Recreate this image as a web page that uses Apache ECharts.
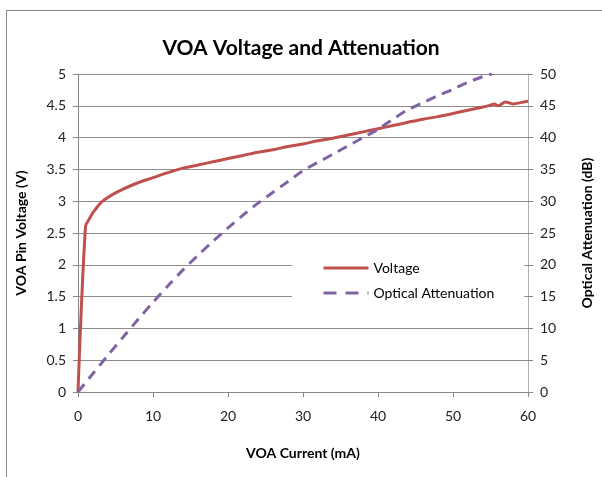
<!DOCTYPE html>
<html lang="en">
<head>
    <meta charset="UTF-8">
    <title>VOA Voltage and Attenuation</title>
    <script src="https://cdn.jsdelivr.net/npm/echarts@6/dist/echarts.min.js"></script>
    <style>
        html, body { margin: 0; padding: 0; background: #fff; }
        #wrap { position: relative; width: 602px; height: 477px; overflow: hidden; }
        #frame { position: absolute; left: 6px; top: 10px; width: 620px; height: 500px; border: 1px solid #8a8a8a; }
        #chart { position: absolute; left: 0; top: 0; width: 602px; height: 477px; }
    </style>
</head>
<body>
<div id="wrap">
    <div id="frame"></div>
    <div id="chart"></div>
</div>
<script>
    // VOA current (mA) and pin voltage (V)
    var voltCurrent = [0, 1, 1.5, 2, 3, 4, 5, 6, 8, 10, 12, 14, 16, 18, 20, 22, 24, 26, 28, 30,
        32, 34, 36, 38, 40, 42, 44, 46, 48, 50, 52, 54, 55, 55.5, 56, 57, 58, 59, 60];
    var voltage = [0, 2.6, 2.72, 2.82, 2.97, 3.06, 3.13, 3.19, 3.29, 3.37, 3.45, 3.52, 3.57, 3.62, 3.67, 3.72, 3.77, 3.81, 3.86, 3.9,
        3.95, 3.99, 4.04, 4.09, 4.14, 4.19, 4.24, 4.29, 4.33, 4.38, 4.43, 4.48, 4.51, 4.53, 4.5, 4.56, 4.53, 4.55, 4.57];

    // VOA current (mA) and optical attenuation (dB)
    var attCurrent = [0, 2, 4, 6, 8, 10, 12, 14, 16, 18, 20, 22, 24, 26, 28, 30, 32, 34, 36, 38,
        40, 42, 44, 46, 48, 50, 52, 54, 55.2];
    var attenuation = [0, 2.9, 5.8, 8.6, 11.4, 14.1, 16.7, 19.2, 21.5, 23.7, 25.8, 27.8, 29.7, 31.4, 33.1, 34.8, 36.1, 37.4, 38.7, 40,
        41.3, 42.9, 44.4, 45.5, 46.6, 47.6, 48.7, 49.6, 50];

    function pairs(xs, ys) {
        var out = [];
        for (var i = 0; i < xs.length; i++) out.push([xs[i], ys[i]]);
        return out;
    }

    var font = 'Lato, "Liberation Sans", sans-serif';
    var axisGray = '#868686';

    var myChart = echarts.init(document.getElementById('chart'));
    var option = {
        animation: false,
        textStyle: { fontFamily: font },
        title: {
            text: 'VOA Voltage and Attenuation',
            left: 296,
            textAlign: 'center',
            top: 33,
            textStyle: { fontSize: 21, fontWeight: 'bold', color: '#000', fontFamily: font }
        },
        legend: {
            orient: 'vertical',
            left: 292,
            top: 253,
            padding: [8, 30, 8, 30],
            backgroundColor: '#fff',
            itemWidth: 45,
            itemHeight: 12,
            itemGap: 11,
            itemStyle: { opacity: 0 },
            lineStyle: { width: 3 },
            textStyle: { fontSize: 14, color: '#000', fontFamily: font },
            data: [
                { name: 'Voltage' },
                { name: 'Optical Attenuation', lineStyle: { type: [13, 9], width: 3 } }
            ]
        },
        grid: { left: 78, right: 72, top: 74, bottom: 85 },
        xAxis: {
            type: 'value',
            min: 0, max: 60, interval: 10,
            name: 'VOA Current (mA)',
            nameLocation: 'middle',
            nameGap: 54,
            nameTextStyle: { fontSize: 14, fontWeight: 'bold', color: '#000' },
            axisLine: { lineStyle: { color: axisGray } },
            axisTick: { show: true, length: 5, lineStyle: { color: axisGray } },
            axisLabel: { fontSize: 14, color: '#222', margin: 17 },
            splitLine: { show: false }
        },
        yAxis: [
            {
                type: 'value',
                min: 0, max: 5, interval: 0.5,
                name: 'VOA Pin Voltage (V)',
                nameLocation: 'middle',
                nameGap: 50,
                nameTextStyle: { fontSize: 14, fontWeight: 'bold', color: '#000' },
                axisLine: { show: true, lineStyle: { color: axisGray } },
                axisTick: { show: true, length: 5, lineStyle: { color: axisGray } },
                axisLabel: { fontSize: 14, color: '#222', margin: 12 },
                splitLine: { show: true, lineStyle: { color: '#8c8c8c', width: 1 } }
            },
            {
                type: 'value',
                min: 0, max: 50, interval: 5,
                position: 'right',
                name: 'Optical Attenuation (dB)',
                nameLocation: 'middle',
                nameRotate: 90,
                nameGap: 52,
                nameTextStyle: { fontSize: 14, fontWeight: 'bold', color: '#000' },
                axisLine: { show: true, lineStyle: { color: '#b0b0b0' } },
                axisTick: { show: true, length: 5, lineStyle: { color: axisGray } },
                axisLabel: { fontSize: 14, color: '#222', margin: 12 },
                splitLine: { show: false }
            }
        ],
        series: [
            {
                name: 'Voltage',
                type: 'line',
                yAxisIndex: 0,
                smooth: 0.3,
                showSymbol: false,
                symbol: 'none',
                z: 3,
                lineStyle: { color: '#C0504D', width: 3 },
                itemStyle: { color: '#C0504D' },
                data: pairs(voltCurrent, voltage)
            },
            {
                name: 'Optical Attenuation',
                type: 'line',
                yAxisIndex: 1,
                smooth: 0.3,
                showSymbol: false,
                symbol: 'none',
                z: 3,
                lineStyle: { color: '#8064A2', width: 3, type: [10, 7] },
                itemStyle: { color: '#8064A2' },
                data: pairs(attCurrent, attenuation)
            }
        ]
    };
    myChart.setOption(option);
</script>
</body>
</html>
